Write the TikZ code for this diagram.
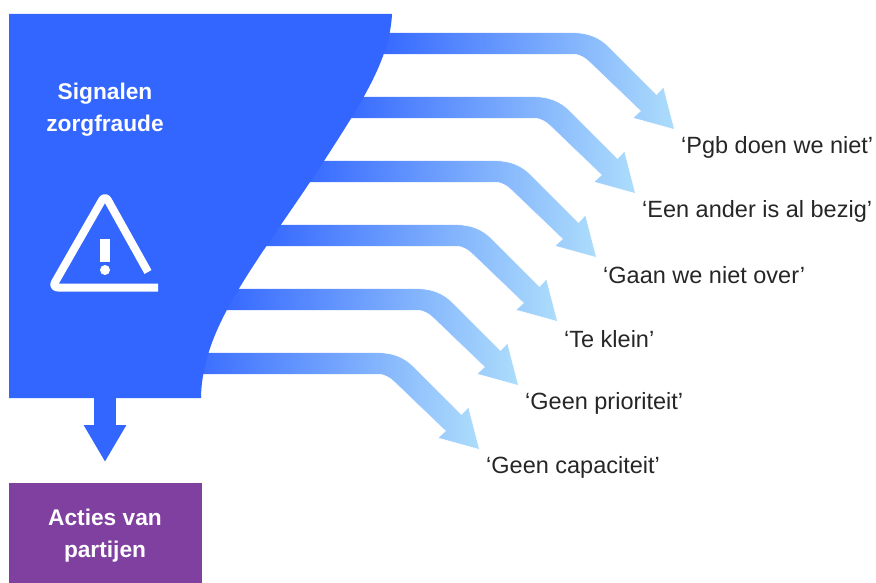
\documentclass[tikz,border=0pt]{standalone}
\usepackage{fontspec}
\usepackage{tikz}
\usetikzlibrary{arrows.meta}
\setmainfont{Liberation Sans}
\definecolor{zorgblue}{HTML}{3366FF}
\definecolor{zorglight}{HTML}{ADDDFB}
\definecolor{zorgpurple}{HTML}{8040A0}
\tikzstyle{funnel}=[fill=zorgblue]
\tikzstyle{flowarrow}=[left color=zorgblue,right color=zorglight,postaction={draw=white,line width=0.5pt}]
\tikzstyle{reason}=[anchor=west,inner sep=0pt,text=black!85,font=\fontsize{23.5}{26}\selectfont]
\tikzstyle{boxtext}=[align=center,inner sep=0pt,text=white,font=\bfseries\fontsize{22.7}{32}\selectfont]
\tikzstyle{dropline}=[draw=zorgblue,line width=22pt,-{Triangle[width=40pt,length=37pt]}]
\tikzstyle{warning}=[draw=white,line width=8pt,line join=round,rounded corners=6pt]
% one arrow out of the funnel with its reason at the tip
\newcommand{\reasonarrow}[3]{%
  \begin{scope}[shift={(#1)}]
    \path[flowarrow] (375,32.7) -- (573,32.7) .. controls (589,32.7) and (600,38) .. (608.5,46.5)
      -- (656.5,94.5) -- (663.5,87) -- (674.5,129.5) -- (633,118) -- (640.5,111) -- (592.5,65)
      .. controls (586,58.5) and (581,54.3) .. (573,54.3) -- (375,54.3) -- cycle;
    \node[reason] (#2) at (681,147.5) {#3};
  \end{scope}}

\begin{document}
\begin{tikzpicture}[x=1pt,y=-1pt]
  \useasboundingbox (0,0) rectangle (876,583);
  \reasonarrow{0,0}{pgb}{‘Pgb doen we niet’}
  \reasonarrow{-39,64}{ander}{‘Een ander is al bezig’}
  \reasonarrow{-78,128}{over}{‘Gaan we niet over’}
  \reasonarrow{-117,192}{klein}{‘Te klein’}
  \reasonarrow{-156,256}{prioriteit}{‘Geen prioriteit’}
  \reasonarrow{-195,320}{capaciteit}{‘Geen capaciteit’}
  % funnel
  \fill[funnel] (9,14) -- (392,14) .. controls (390,60) and (360,105) .. (324,161)
    .. controls (258,262) and (202,325) .. (201,398) -- (9,398) -- cycle;
  \coordinate (outlet) at (105,398);
  \coordinate (droptip) at (105,462);
  \node[boxtext] (signalen) at (105,110) {Signalen\\zorgfraude};
  % warning sign
  \draw[warning] (148,272) -- (105,195) -- (52,287.5) -- (158,287.5);
  \fill[white] (100,239) rectangle (109.5,262);
  \fill[white] (105,270) circle (5);
  \fill[zorgpurple] (9,483) rectangle (202,583);
  \node[boxtext] (acties) at (105,536) {Acties van\\partijen};
  \draw[dropline] (outlet) -- (droptip);
\end{tikzpicture}
\end{document}
